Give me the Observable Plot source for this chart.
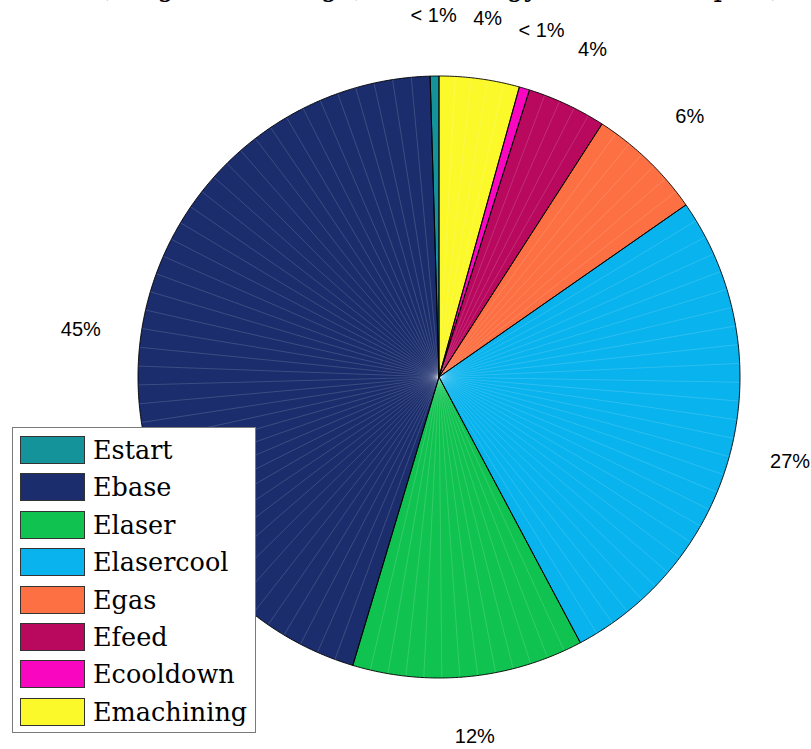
<!DOCTYPE html>
<html>
<head>
<meta charset="utf-8">
<script src="https://cdn.jsdelivr.net/npm/d3@7"></script>
<script src="https://cdn.jsdelivr.net/npm/@observablehq/plot@0.6"></script>
<style>
html, body { margin: 0; padding: 0; background: #fff; overflow: hidden; }
#wrap { position: relative; width: 811px; height: 749px; overflow: hidden; }
#title { position: absolute; top: -27px; left: 440px; transform: translateX(-50%); white-space: nowrap;
  font-family: "DejaVu Serif", serif; font-size: 27px; line-height: 27px; color: #000; }
#legend { position: absolute; left: 12px; top: 427px; width: 242px; height: 304px; background: #fff;
  border: 1px solid #7a7a7a; box-sizing: content-box; }
.row { position: absolute; left: 7px; height: 28px; display: flex; align-items: center; }
.sw { width: 63px; height: 26px; border: 1px solid #333; box-sizing: content-box; }
.lab { margin-left: 8px; font-family: "DejaVu Serif", serif; font-size: 25.5px; line-height: 28px; color: #000; white-space: nowrap; }
</style>
</head>
<body>
<div id="wrap">
  <div id="title"></div>
  <div id="chart"></div>
  <div id="legend"></div>
</div>
<script>
// ---- data ----
const categories = ["Estart", "Ebase", "Elaser", "Elasercool", "Egas", "Efeed", "Ecooldown", "Emachining"];
const shares = [0.47, 44.9, 12.4, 26.9, 6.2, 4.25, 0.56, 4.3];   // percent
const colors = ["#14939a", "#1b2d6c", "#10c350", "#08b3ee", "#fd7043", "#b8095f", "#f907c0", "#fbf929"];
const titleText = "(weighted average) total energy: 12.3 kWh / part)";

// ---- geometry from data ----
const total = d3.sum(shares);
let acc = 0;
const slices = shares.map((v, i) => {
  const f = v / total;
  const a0 = acc * 2 * Math.PI;
  acc += f;
  const a1 = acc * 2 * Math.PI;
  return {name: categories[i], value: v, f, a0, a1, color: colors[i]};
});
// angle measured counter-clockwise from 12 o'clock, radius 1
const pt = (a, r = 1) => ({x: -Math.sin(a) * r, y: Math.cos(a) * r});

const wedge = s => {
  const n = Math.max(2, Math.ceil((s.a1 - s.a0) / (Math.PI / 360)));
  const pts = [pt(0, 0)];
  for (let k = 0; k <= n; ++k) pts.push(pt(s.a0 + (s.a1 - s.a0) * k / n));
  pts.push(pt(0, 0));
  return pts;
};

// internal patch edges (as in the original rendering: ceil(100*f) segments per slice)
const seams = [];
slices.forEach(s => {
  const n = Math.max(1, Math.ceil(100 * s.f));
  for (let k = 1; k < n; ++k) {
    const p = pt(s.a0 + (s.a1 - s.a0) * k / n);
    seams.push({x1: 0, y1: 0, x2: p.x, y2: p.y});
  }
});

const labels = slices.map(s => {
  const p = pt((s.a0 + s.a1) / 2, 1.2);
  return {x: p.x, y: p.y, text: s.value < 1 ? "< 1%" : Math.round(s.value) + "%"};
});

const marks = [];
slices.forEach(s => marks.push(Plot.line(wedge(s), {x: "x", y: "y", fill: s.color, stroke: "none"})));
marks.push(Plot.link(seams, {x1: "x1", y1: "y1", x2: "x2", y2: "y2", stroke: "#ffffff", strokeOpacity: 0.25, strokeWidth: 0.6}));
slices.forEach(s => marks.push(Plot.line(wedge(s), {x: "x", y: "y", fill: "none", stroke: "#000", strokeWidth: 0.9, strokeLinejoin: "round"})));
marks.push(Plot.text(labels, {x: "x", y: "y", text: "text", fontSize: 20, fontFamily: "'Liberation Sans', Arial, sans-serif", fill: "#000", textAnchor: "middle", lineAnchor: "middle"}));

const R = 301;
const chart = Plot.plot({
  width: 811,
  height: 749,
  margin: 0,
  x: {domain: [-438.5 / R, (811 - 438.5) / R], axis: null},
  y: {domain: [-(749 - 376.5) / R, 376.5 / R], axis: null},
  style: {background: "#fff", overflow: "visible"},
  marks
});
document.getElementById("chart").appendChild(chart);

document.getElementById("title").textContent = titleText;

const legend = document.getElementById("legend");
categories.forEach((c, i) => {
  const row = document.createElement("div");
  row.className = "row";
  row.style.top = (8 + i * 37.4) + "px";
  const sw = document.createElement("div");
  sw.className = "sw";
  sw.style.background = colors[i];
  const lab = document.createElement("span");
  lab.className = "lab";
  lab.textContent = c;
  row.appendChild(sw);
  row.appendChild(lab);
  legend.appendChild(row);
});
</script>
</body>
</html>
